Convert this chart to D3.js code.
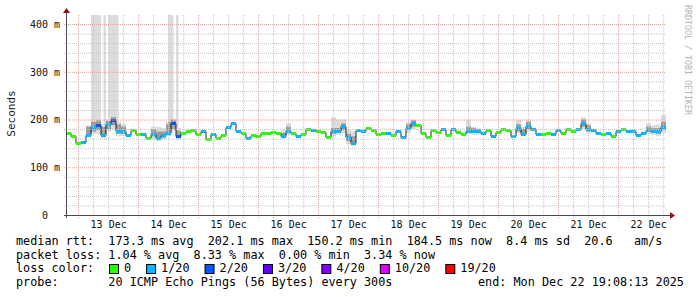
<!DOCTYPE html>
<html>
<head>
<meta charset="utf-8">
<script src="https://cdn.jsdelivr.net/npm/d3@7"></script>
<style>
  body { margin: 0; background: #fff; }
  svg text { font-family: "DejaVu Sans Mono", monospace; white-space: pre; }
</style>
</head>
<body>
<svg id="chart" width="697" height="297"></svg>
<script>
// time range of the graph (10 days ending at "end")
const startTime = new Date(Date.UTC(2025, 11, 12, 19, 8, 13))
const endTime = new Date(Date.UTC(2025, 11, 22, 19, 8, 13))
const stepHours = 2

// median rtt per step, in ms
const medianMs = [
  172, 165, 150, 153, 167, 185, 188, 167, 190, 200,
  176, 176, 167, 178, 170, 169, 162, 169, 162, 168,
  172, 193, 166, 172, 175, 178, 170, 175, 160, 170,
  162, 168, 185, 192, 176, 172, 162, 167, 165, 172,
  172, 174, 172, 165, 177, 171, 166, 170, 181, 178,
  177, 173, 164, 175, 176, 186, 163, 151, 178, 175,
  183, 178, 170, 172, 171, 168, 175, 163, 182, 193,
  188, 171, 163, 178, 174, 180, 168, 181, 174, 169,
  177, 176, 177, 171, 178, 165, 173, 180, 178, 166,
  183, 170, 186, 180, 169, 170, 172, 170, 178, 172,
  180, 177, 180, 193, 180, 179, 171, 169, 171, 165,
  175, 181, 176, 177, 168, 172, 179, 177, 177, 184
]

// lost pings (out of 20) per step
const lostPings = [
  0, 0, 0, 1, 1, 1, 2, 1, 1, 2,
  1, 1, 1, 0, 0, 1, 0, 1, 1, 1,
  1, 2, 2, 0, 0, 0, 0, 1, 0, 1,
  0, 0, 1, 1, 1, 0, 1, 0, 0, 0,
  0, 0, 0, 1, 1, 0, 1, 0, 0, 1,
  0, 0, 0, 1, 1, 1, 1, 1, 1, 1,
  0, 0, 0, 0, 1, 0, 1, 1, 1, 1,
  0, 0, 0, 0, 0, 1, 0, 1, 0, 0,
  1, 1, 1, 1, 0, 1, 0, 0, 0, 1,
  1, 1, 1, 1, 1, 0, 0, 1, 1, 0,
  0, 0, 1, 1, 1, 1, 1, 0, 1, 0,
  1, 0, 1, 1, 1, 1, 1, 1, 1, 1
]

// smoke: [hour offset, hours, min ping, inner low, inner high, max ping] in ms
const smoke = [
  [8, 2, 165, 170, 185, 188], [10, 2, 170, 175, 195, 500], [12, 2, 170, 178, 198, 500],
  [14, 1, 160, 165, 185, 190], [15, 1, 160, 165, 185, 500], [16, 1, 175, 180, 197, 200],
  [17, 1, 175, 180, 197, 500], [18, 2, 180, 188, 205, 500], [20, 1, 165, 170, 190, 500],
  [21, 1, 165, 170, 190, 195], [22, 2, 165, 170, 185, 190],
  [34, 2, 160, 165, 180, 185], [36, 2, 155, 160, 175, 185], [38, 2, 158, 162, 175, 182],
  [40, 1, 165, 170, 190, 195], [41, 1, 165, 172, 195, 500], [42, 1, 175, 180, 200, 500],
  [43, 1, 175, 180, 198, 202], [44, 1, 158, 162, 178, 500], [45, 1, 158, 162, 176, 182],
  [86, 2, 160, 163, 172, 178], [88, 2, 168, 172, 185, 192],
  [106, 2, 165, 170, 182, 205], [108, 2, 168, 172, 182, 200], [110, 2, 170, 178, 192, 200],
  [112, 2, 148, 155, 170, 180], [114, 2, 145, 150, 165, 175],
  [136, 2, 172, 178, 190, 195], [138, 2, 180, 185, 198, 200],
  [160, 2, 170, 172, 185, 200], [162, 2, 168, 172, 182, 185], [164, 2, 168, 172, 180, 182],
  [180, 2, 172, 175, 190, 200], [182, 2, 165, 168, 180, 185], [184, 2, 175, 180, 195, 200],
  [206, 2, 180, 185, 200, 205], [208, 2, 172, 175, 188, 192],
  [232, 2, 170, 175, 185, 192], [234, 2, 168, 172, 182, 188], [236, 2, 165, 170, 182, 190],
  [238, 2, 172, 178, 195, 210]
]

const lossThresholds = [1, 2, 3, 4, 10, 19]
const lossColors = ['#26ff00', '#00b8ff', '#0059ff', '#5e00ff', '#7e00ff', '#dd00ff', '#ff0000']
const lossLabels = ['0', '1/20', '2/20', '3/20', '4/20', '10/20', '19/20']

const yMajorTicks = [0, 0.1, 0.2, 0.3, 0.4]
const yMinorTicks = [0.02, 0.04, 0.06, 0.08, 0.12, 0.14, 0.16, 0.18, 0.22, 0.24, 0.26, 0.28,
  0.32, 0.34, 0.36, 0.38]

const statLines = [
  'median rtt:  173.3 ms avg  202.1 ms max  150.2 ms min  184.5 ms now  8.4 ms sd  20.6   am/s',
  'packet loss: 1.04 % avg  8.33 % max  0.00 % min  3.34 % now'
]
const probeText = 'probe:       20 ICMP Echo Pings (56 Bytes) every 300s'
const endText = 'end: Mon Dec 22 19:08:13 2025'

const svg = d3.select('#chart')
const plotLeft = 66
const plotRight = 666
const plotTop = 15
const plotBottom = 215

const x = d3.scaleUtc().domain([startTime, endTime]).range([plotLeft, plotRight])
const y = d3.scaleLinear().domain([0, 0.419]).range([plotBottom, plotTop]).clamp(true)
const lossColor = d3.scaleThreshold().domain(lossThresholds).range(lossColors)

const stepTime = i => d3.utcHour.offset(startTime, i * stepHours)
const hourTime = h => d3.utcHour.offset(startTime, h)

// smoke
const smokeLayer = (lo, hi, colour) => svg.append('g').selectAll('rect').data(smoke).join('rect')
  .attr('x', d => x(hourTime(d[0])))
  .attr('width', d => x(hourTime(d[0] + d[1])) - x(hourTime(d[0])))
  .attr('y', d => y(d[hi] / 1000))
  .attr('height', d => y(d[lo] / 1000) - y(d[hi] / 1000))
  .attr('fill', colour)
smokeLayer(2, 5, '#dcdcdc')
smokeLayer(3, 4, '#9a9a9a')

// median: black step line, then loss coloured blocks
const points = medianMs.map((v, i) => [stepTime(i), v / 1000])
points.push([endTime, medianMs[medianMs.length - 1] / 1000])
svg.append('path')
  .attr('d', d3.line().x(d => x(d[0])).y(d => Math.round(y(d[1])) + 0.5).curve(d3.curveStepAfter)(points))
  .attr('fill', 'none')
  .attr('stroke', '#202020')
  .attr('stroke-width', 1)

svg.append('g').selectAll('rect').data(medianMs).join('rect')
  .attr('x', (d, i) => x(stepTime(i)))
  .attr('width', (d, i) => x(stepTime(i + 1)) - x(stepTime(i)))
  .attr('y', d => Math.round(y(d / 1000)) - 1)
  .attr('height', 3)
  .attr('fill', (d, i) => lossColor(lostPings[i]))

// grid (on top, dotted like rrdtool)
const gridY = (ticks, colour) => {
  const g = svg.append('g').attr('transform', `translate(${plotLeft},0)`)
    .call(d3.axisLeft(y).tickValues(ticks).tickSize(-(plotRight - plotLeft)).tickSizeOuter(0).tickFormat(''))
  g.select('.domain').remove()
  g.selectAll('.tick line').attr('stroke', colour).attr('stroke-dasharray', '1,1')
    .attr('x1', -2)
}
gridY(yMinorTicks, '#c4c4c4')
gridY(yMajorTicks.slice(1), '#f29a9a')

const gridX = (ticks, colour) => {
  const g = svg.append('g').attr('transform', `translate(0,${plotBottom})`)
    .call(d3.axisBottom(x).tickValues(ticks).tickSize(-(plotBottom - plotTop)).tickSizeOuter(0).tickFormat(''))
  g.select('.domain').remove()
  g.selectAll('.tick line').attr('stroke', colour).attr('stroke-dasharray', '1,1')
    .attr('y1', 3)
}
const sixHours = d3.utcHour.every(6).range(startTime, endTime).filter(d => d.getUTCHours() !== 0)
gridX(sixHours, '#c4c4c4')
gridX(d3.utcDay.range(startTime, endTime), '#f29a9a')

// axes lines and arrows
svg.append('line').attr('x1', plotLeft - 2).attr('x2', plotRight + 5)
  .attr('y1', plotBottom + 0.5).attr('y2', plotBottom + 0.5).attr('stroke', '#4a4a4a')
svg.append('line').attr('x1', plotLeft + 0.5).attr('x2', plotLeft + 0.5)
  .attr('y1', plotBottom + 3).attr('y2', plotTop - 3).attr('stroke', '#4a4a4a')
svg.append('path').attr('d', `M${plotLeft + 0.5},${plotTop - 7}L${plotLeft - 3},${plotTop - 2}L${plotLeft + 4},${plotTop - 2}Z`)
  .attr('fill', '#8b1414')
svg.append('path').attr('d', `M${plotRight + 9},${plotBottom + 0.5}L${plotRight + 4},${plotBottom - 3}L${plotRight + 4},${plotBottom + 4}Z`)
  .attr('fill', '#8b1414')

// y labels
const yLab = svg.append('g').attr('transform', `translate(${plotLeft},0)`)
  .call(d3.axisLeft(y).tickValues(yMajorTicks).tickSize(0).tickPadding(6)
    .tickFormat(d => d === 0 ? '0  ' : `${Math.round(d * 1000)} m`))
yLab.select('.domain').remove()
yLab.selectAll('text').attr('font-family', '"DejaVu Sans Mono", monospace')
  .attr('font-size', 10).attr('fill', '#111')

// x labels at noon
const noons = d3.utcDay.range(startTime, endTime).map(d => d3.utcHour.offset(d, 12)).filter(d => d < endTime)
const xLab = svg.append('g').attr('transform', `translate(0,${plotBottom})`)
  .call(d3.axisBottom(x).tickValues(noons).tickSize(0).tickPadding(6)
    .tickFormat(d3.utcFormat('%-d %b')))
xLab.select('.domain').remove()
xLab.selectAll('text').attr('font-family', '"DejaVu Sans Mono", monospace')
  .attr('font-size', 10).attr('fill', '#111')

svg.append('text').attr('transform', 'translate(15,113.5) rotate(-90)')
  .attr('text-anchor', 'middle').attr('font-size', 11).attr('fill', '#222')
  .text('Seconds')

svg.append('text').attr('transform', 'translate(685,5) rotate(90)')
  .attr('font-size', 8.3).attr('fill', '#b4b4b4')
  .text('RRDTOOL / TOBI OETIKER')

// legend
const legendFont = 11.8
svg.selectAll('text.stat').data(statLines).join('text')
  .attr('class', 'stat')
  .attr('x', 16).attr('y', (d, i) => 245 + i * 13.7)
  .attr('font-size', legendFont).attr('fill', '#000')
  .text(d => d)

svg.append('text').attr('x', 16).attr('y', 272.4)
  .attr('font-size', legendFont).attr('fill', '#000').text('loss color:')

let lx = 109
lossLabels.forEach((label, i) => {
  svg.append('rect').attr('x', lx + 0.5).attr('y', 264.5).attr('width', 9).attr('height', 9)
    .attr('fill', lossColors[i]).attr('stroke', '#000')
  const t = svg.append('text').attr('x', lx + 15).attr('y', 272.4)
    .attr('font-size', legendFont).attr('fill', '#000').text(label)
  lx += 15 + t.node().getComputedTextLength() + 15
})

svg.append('text').attr('x', 16).attr('y', 286)
  .attr('font-size', legendFont).attr('fill', '#000').text(probeText)
svg.append('text').attr('x', 478).attr('y', 286)
  .attr('font-size', legendFont).attr('fill', '#000').text(endText)
</script>
</body>
</html>
